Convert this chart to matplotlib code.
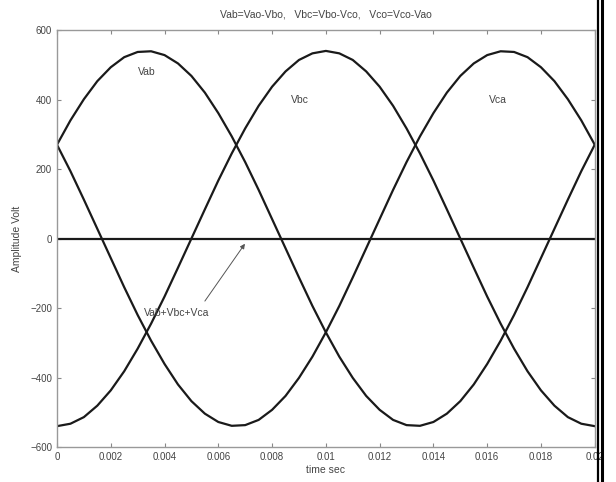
import numpy as np
import matplotlib
matplotlib.use("Agg")
import matplotlib.pyplot as plt
from matplotlib.lines import Line2D

# time samples (s)
t = [i * 0.0005 for i in range(41)]

vab = [270, 340, 401, 453, 493, 522, 537, 539, 528, 504, 468, 420, 361, 294, 220,
       140, 56, -28, -112, -194, -270, -340, -401, -453, -493, -522, -537, -539,
       -528, -504, -468, -420, -361, -294, -220, -140, -56, 28, 112, 194, 270]
vbc = [-540, -533, -514, -481, -437, -382, -317, -245, -167, -84, 0, 84, 167, 245,
       317, 382, 437, 481, 514, 533, 540, 533, 514, 481, 437, 382, 317, 245, 167,
       84, 0, -84, -167, -245, -317, -382, -437, -481, -514, -533, -540]
vca = [270, 194, 112, 28, -56, -140, -220, -294, -361, -420, -468, -504, -528, -539,
       -537, -522, -493, -453, -401, -340, -270, -194, -112, -28, 56, 140, 220, 294,
       361, 420, 468, 504, 528, 539, 537, 522, 493, 453, 401, 340, 270]
vsum = [0] * 41

xticks = [0, 0.002, 0.004, 0.006, 0.008, 0.01, 0.012, 0.014, 0.016, 0.018, 0.02]
xticklabels = ["0", "0.002", "0.004", "0.006", "0.008", "0.01", "0.012", "0.014",
               "0.016", "0.018", "0.02"]
yticks = [-600, -400, -200, 0, 200, 400, 600]

plt.rcParams['font.family'] = ['Liberation Sans', 'DejaVu Sans']
txtc = "#444444"

fig = plt.figure(figsize=(6.16, 4.82), dpi=100)
ax = fig.add_axes([0.0925, 0.0726, 0.873, 0.865])

for s in (vab, vbc, vca):
    ax.plot(t, s, color="#1a1a1a", lw=1.6, solid_joinstyle="round")
ax.plot(t, vsum, color="#1a1a1a", lw=1.6)

ax.set_xlim(0, 0.02)
ax.set_ylim(-600, 600)
ax.set_xticks(xticks)
ax.set_xticklabels(xticklabels)
ax.set_yticks(yticks)
ax.tick_params(direction="in", top=True, right=True, labelsize=7, colors="#888888",
               labelcolor=txtc, length=3)
for sp in ax.spines.values():
    sp.set_color("#999999")
    sp.set_linewidth(1.0)

ax.set_title("Vab=Vao-Vbo,   Vbc=Vbo-Vco,   Vco=Vco-Vao", fontsize=7.5, color=txtc, pad=9)
ax.set_xlabel("time sec", fontsize=7.5, color=txtc, labelpad=2)
ax.set_ylabel("Amplitude Volt", fontsize=7.5, color=txtc, labelpad=6)

ax.text(0.00335, 479, "Vab", fontsize=7.5, color=txtc, ha="center", va="center")
ax.text(0.00903, 399, "Vbc", fontsize=7.5, color=txtc, ha="center", va="center")
ax.text(0.0164, 399, "Vca", fontsize=7.5, color=txtc, ha="center", va="center")
ax.text(0.00445, -214, "Vab+Vbc+Vca", fontsize=7.5, color=txtc, ha="center", va="center")
ax.annotate("", xy=(0.00699, -15), xytext=(0.0055, -180),
            arrowprops=dict(arrowstyle="-|>", color="#555555", lw=0.7,
                            mutation_scale=7, shrinkA=0, shrinkB=0))

# right-edge double bar of the source image
fig.add_artist(Line2D([597.5 / 616, 597.5 / 616], [0, 1], color="black", lw=1.6,
                      transform=fig.transFigure))
fig.add_artist(Line2D([602 / 616, 602 / 616], [0, 1], color="black", lw=2.2,
                      transform=fig.transFigure))

fig.savefig("out.png", dpi=100)
